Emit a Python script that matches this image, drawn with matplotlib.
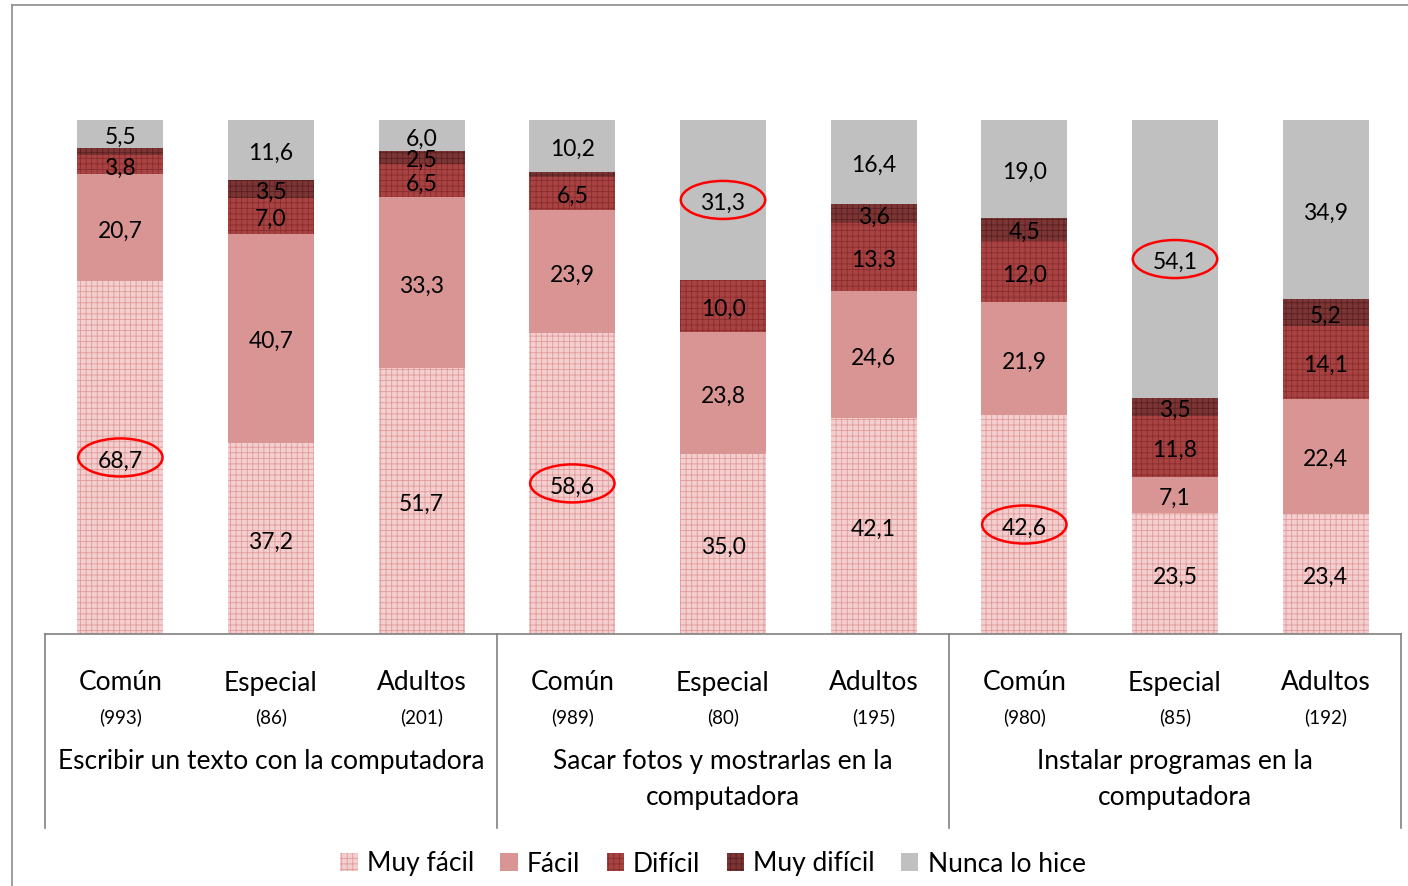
import matplotlib
matplotlib.use("Agg")
import matplotlib.pyplot as plt
from matplotlib.patches import Ellipse, Rectangle
from matplotlib.lines import Line2D

plt.rcParams['font.family'] = ['Lato', 'DejaVu Sans']
plt.rcParams['hatch.linewidth'] = 0.6

levels = ["Común", "Especial", "Adultos"] * 3
counts = ["(993)", "(86)", "(201)", "(989)", "(80)", "(195)", "(980)", "(85)", "(192)"]
groups = ["Escribir un texto con la computadora",
          "Sacar fotos y mostrarlas en la\ncomputadora",
          "Instalar programas en la\ncomputadora"]
series = ["Muy fácil", "Fácil", "Difícil", "Muy difícil", "Nunca lo hice"]
muy_facil = [68.7, 37.2, 51.7, 58.6, 35.0, 42.1, 42.6, 23.5, 23.4]
facil = [20.7, 40.7, 33.3, 23.9, 23.8, 24.6, 21.9, 7.1, 22.4]
dificil = [3.8, 7.0, 6.5, 6.5, 10.0, 13.3, 12.0, 11.8, 14.1]
muy_dificil = [1.3, 3.5, 2.5, 0.8, 0.0, 3.6, 4.5, 3.5, 5.2]
nunca = [5.5, 11.6, 6.0, 10.2, 31.3, 16.4, 19.0, 54.1, 34.9]
labeled = [
    [True] * 9,
    [True] * 9,
    [True] * 9,
    [False, True, True, False, False, True, True, True, True],
    [True] * 9,
]
# (bar index, series index) of circled values
circled = [(0, 0), (3, 0), (4, 4), (6, 0), (7, 4)]

styles = [
    dict(facecolor="#f3cfcf", edgecolor="#e29a9a", hatch="+++"),
    dict(facecolor="#d99594", edgecolor="#d99594", hatch=None),
    dict(facecolor="#a84343", edgecolor="#8a2c2c", hatch="+++"),
    dict(facecolor="#7b3535", edgecolor="#5a1f1f", hatch="+++"),
    dict(facecolor="#c0c0c0", edgecolor="#c0c0c0", hatch=None),
]

W, H = 1408, 886
fig = plt.figure(figsize=(W / 100, H / 100), dpi=100)
ax = fig.add_axes([45 / W, 1 - 634 / H, (1401 - 45) / W, (634 - 120) / H])

data = [muy_facil, facil, dificil, muy_dificil, nunca]
x = list(range(len(levels)))
bottoms = [0.0] * len(x)
for si, vals in enumerate(data):
    st = styles[si]
    ax.bar(x, vals, bottom=bottoms, width=0.57, facecolor=st["facecolor"],
           edgecolor=st["edgecolor"], hatch=st["hatch"], linewidth=0)
    for i, v in enumerate(vals):
        if labeled[si][i] and v > 0:
            yc = bottoms[i] + v / 2
            ax.annotate(f"{v:.1f}".replace(".", ","), (i, yc), xytext=(0, -2.5),
                        textcoords="offset points", ha="center", va="center",
                        fontsize=16.5, color="black")
            if (i, si) in circled:
                ax.add_patch(Ellipse((i, yc), 0.56, 7.4, fill=False,
                                     edgecolor="red", linewidth=1.8))
    bottoms = [b + v for b, v in zip(bottoms, vals)]

ax.set_xlim(-0.5, 8.5)
ax.set_ylim(0, 100)
ax.set_xticks([])
ax.set_yticks([])
for s in ["top", "left", "right"]:
    ax.spines[s].set_visible(False)
ax.spines["bottom"].set_color("#808080")
ax.spines["bottom"].set_linewidth(1.2)

tr = ax.get_xaxis_transform()
for i, (lv, c) in enumerate(zip(levels, counts)):
    ax.text(i, -49 / 514, lv, transform=tr, ha="center", va="center", fontsize=19)
    ax.text(i, -83 / 514, c, transform=tr, ha="center", va="center", fontsize=13.5)
for g, name in enumerate(groups):
    for li, line in enumerate(name.split("\n")):
        ax.text(3 * g + 1, -(128 + 35 * li) / 514, line, transform=tr, ha="center",
                va="center", fontsize=19)
for xs in [-0.5, 2.5, 5.5, 8.5]:
    ax.plot([xs, xs], [0, -194 / 514], transform=tr, color="#808080",
            linewidth=1.2, clip_on=False)

# outer frame
fig.add_artist(Line2D([12 / W, 12 / W], [0, 1 - 5 / H], color="#8c8c8c", linewidth=1.2))
fig.add_artist(Line2D([12 / W, 1], [1 - 5 / H, 1 - 5 / H], color="#8c8c8c", linewidth=1.2))

handles = [Rectangle((0, 0), 1, 1, facecolor=st["facecolor"], edgecolor=st["edgecolor"],
                     hatch=st["hatch"], linewidth=0) for st in styles]
fig.legend(handles, series, loc="center", bbox_to_anchor=(713 / W, 1 - 864 / H),
           ncol=5, frameon=False, fontsize=19, handlelength=0.65, handleheight=0.65,
           handletextpad=0.35, columnspacing=1.0)

fig.savefig("out.png", dpi=100)
